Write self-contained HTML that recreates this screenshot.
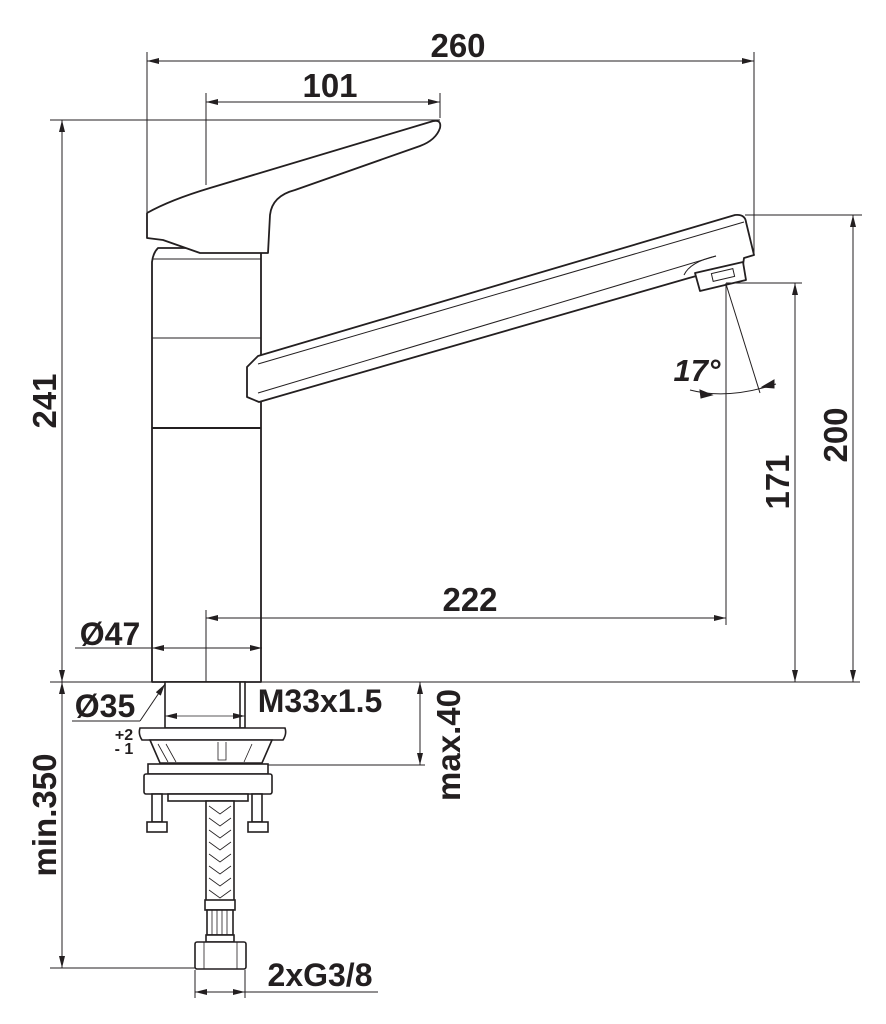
<!DOCTYPE html>
<html><head><meta charset="utf-8"><style>
html,body{margin:0;padding:0;background:#fff}
svg{display:block}
text{font-family:"Liberation Sans",Arial,sans-serif;font-weight:bold;fill:#231f20}
</style></head><body>
<svg width="886" height="1024" viewBox="0 0 886 1024" xmlns="http://www.w3.org/2000/svg">
<defs>
<marker id="a" viewBox="0 0 12 6" refX="12" refY="3" markerWidth="14" markerHeight="6" markerUnits="userSpaceOnUse" orient="auto-start-reverse"><path d="M0,0L12,3L0,6Z" fill="#231f20"/></marker>
</defs>
<g stroke="#231f20" fill="#fff" stroke-width="1.8" stroke-linejoin="round">
<!-- body -->
<path d="M152,682 L152,262 Q153,253 158,248 L261,248 L261,682 Z"/>
<!-- lever -->
<path d="M147,213 Q170,200 210,188 L430,122 Q442,118 440,128 Q436,140 420,146 L295,190 Q272,196 270,215 L268,253 L200,253 L163,240 L147,238 Z"/>
<!-- spout -->
<path d="M258,356 L735,215 Q745,214 746,222 L754,255 L744,258 L743,265 L700,275 L689,278 L259,402 L247,397 L247,367 Z"/>
<path d="M695,273 L743,262 L746,280 L700,291 Z"/>
</g>
<g stroke="#231f20" fill="none" stroke-width="1">
<line x1="152" y1="259" x2="261" y2="259"/>
<line x1="152" y1="338" x2="261" y2="338"/>
<line x1="152" y1="428" x2="261" y2="428" stroke-width="2"/>
<line x1="258" y1="364" x2="744" y2="222"/>
<line x1="258" y1="393" x2="716" y2="256"/>
<path d="M684,275 Q690,262 716,256"/>
<rect x="712" y="271" width="22" height="8" transform="rotate(-13 723 275)"/>
</g>
<g stroke="#231f20" fill="none" stroke-width="1">
<!-- extension lines -->
<line x1="147" y1="52" x2="147" y2="212"/>
<line x1="754" y1="52" x2="754" y2="255"/>
<line x1="206" y1="93" x2="206" y2="185"/>
<line x1="440" y1="93" x2="440" y2="118"/>
<line x1="50" y1="120" x2="440" y2="120"/>
<line x1="50" y1="682" x2="860" y2="682"/>
<line x1="745" y1="215" x2="862" y2="215"/>
<line x1="726" y1="283" x2="802" y2="283"/>
<line x1="726" y1="283" x2="726" y2="625"/>
<line x1="206" y1="610" x2="206" y2="690"/>
<!-- dims -->
<line x1="147" y1="61" x2="754" y2="61" marker-start="url(#a)" marker-end="url(#a)"/>
<line x1="206" y1="102" x2="440" y2="102" marker-start="url(#a)" marker-end="url(#a)"/>
<line x1="62" y1="120" x2="62" y2="682" marker-start="url(#a)" marker-end="url(#a)"/>
<line x1="206" y1="618" x2="726" y2="618" marker-start="url(#a)" marker-end="url(#a)"/>
<line x1="795" y1="283" x2="795" y2="682" marker-start="url(#a)" marker-end="url(#a)"/>
<line x1="853" y1="215" x2="853" y2="682" marker-start="url(#a)" marker-end="url(#a)"/>
<line x1="75" y1="648" x2="152" y2="648"/>
<line x1="152" y1="648" x2="262" y2="648" marker-start="url(#a)" marker-end="url(#a)"/>
<line x1="62" y1="682" x2="62" y2="968" marker-start="url(#a)" marker-end="url(#a)"/>
<line x1="50" y1="968" x2="200" y2="968"/>
<line x1="420" y1="682" x2="420" y2="765" marker-start="url(#a)" marker-end="url(#a)"/>
<line x1="268" y1="765" x2="425" y2="765"/>
<line x1="72" y1="721" x2="140" y2="721"/>
<line x1="140" y1="721" x2="165" y2="684" marker-end="url(#a)"/>
<line x1="195" y1="970" x2="195" y2="998"/>
<line x1="245" y1="970" x2="245" y2="998"/>
<line x1="195" y1="992" x2="245" y2="992" marker-start="url(#a)" marker-end="url(#a)"/>
<line x1="245" y1="992" x2="378" y2="992"/>
<!-- 17 deg -->
<line x1="726" y1="284" x2="760" y2="393"/>
<path d="M690,390 Q728,400 776,384"/>
<path d="M712,395 l-12,-5 l1,8 z" fill="#231f20"/>
<path d="M762,387 l12,-7 l0,8 z" fill="#231f20"/>
</g>
<!-- bottom parts -->
<g stroke="#231f20" fill="#fff" stroke-width="1.6">
<rect x="165" y="682" width="80" height="46"/>
<path d="M240,682 L240,728"/>
<path d="M140,728 L285,728 Q287,734 283,740 L142,740 Q138,734 140,728 Z"/>
<path d="M150,740 L160,763 L262,763 L272,740 Z"/>
<rect x="148" y="764" width="120" height="10"/>
<rect x="144" y="774" width="128" height="20" rx="2"/>
<rect x="168" y="794" width="80" height="7"/>
<rect x="152" y="794" width="10" height="28"/>
<rect x="147" y="822" width="20" height="10"/>
<rect x="252" y="794" width="10" height="28"/>
<rect x="248" y="822" width="20" height="10"/>
<rect x="206" y="801" width="28" height="100"/>
<rect x="205" y="900" width="30" height="10"/>
<rect x="207" y="910" width="26" height="25"/>
<rect x="206" y="935" width="28" height="7"/>
<rect x="195" y="942" width="51" height="27" rx="2"/>
</g>
<g stroke="#231f20" fill="none" stroke-width="0.8">
<line x1="165" y1="716" x2="245" y2="716" marker-start="url(#a)" marker-end="url(#a)"/>
<path d="M209,806 l11,8 l11,-8 M209,818 l11,8 l11,-8 M209,830 l11,8 l11,-8 M209,842 l11,8 l11,-8 M209,854 l11,8 l11,-8 M209,866 l11,8 l11,-8 M209,878 l11,8 l11,-8 M209,890 l11,8 l11,-8"/>
<path d="M212,910 v25 M217,910 v25 M222,910 v25 M227,910 v25"/>
<path d="M204,942 v27 M237,942 v27"/>
<path d="M158,744 L168,762 M166,744 L176,762 M252,744 L244,762 M218,742 v18 h8 v-18"/>
</g>
<!-- labels -->
<text x="458" y="57" font-size="33" text-anchor="middle">260</text>
<text x="330" y="97" font-size="33" text-anchor="middle">101</text>
<text x="470" y="611" font-size="33" text-anchor="middle">222</text>
<text x="110" y="645" font-size="32" text-anchor="middle">Ø47</text>
<text x="105" y="717" font-size="32" text-anchor="middle">Ø35</text>
<text x="320" y="712" font-size="32" text-anchor="middle">M33x1.5</text>
<text x="320" y="986" font-size="32" text-anchor="middle">2xG3/8</text>
<text x="124" y="740" font-size="16" text-anchor="middle">+2</text>
<text x="124" y="754" font-size="16" text-anchor="middle">- 1</text>
<text x="697" y="381" font-size="31" text-anchor="middle" font-style="italic" font-weight="normal">17°</text>
<text transform="translate(56,401) rotate(-90)" font-size="33" text-anchor="middle">241</text>
<text transform="translate(789,482) rotate(-90)" font-size="33" text-anchor="middle">171</text>
<text transform="translate(847,435) rotate(-90)" font-size="33" text-anchor="middle">200</text>
<text transform="translate(56,815) rotate(-90)" font-size="33" text-anchor="middle">min.350</text>
<text transform="translate(460,745) rotate(-90)" font-size="33" text-anchor="middle">max.40</text>
</svg>
</body></html>
